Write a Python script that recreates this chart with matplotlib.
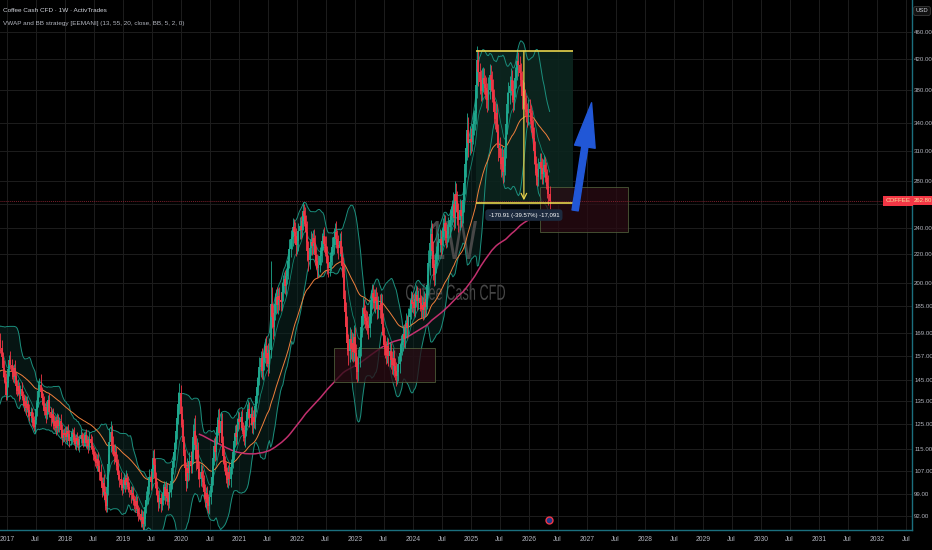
import numpy as np
import pandas as pd
import matplotlib
matplotlib.use("Agg")
import matplotlib.pyplot as plt
import matplotlib.dates as mdates
import matplotlib.transforms as mtransforms
from matplotlib.patches import Rectangle, PathPatch
from matplotlib.textpath import TextPath
from matplotlib.font_manager import FontProperties
from matplotlib.ticker import NullLocator

plt.rcParams['font.family'] = ['Liberation Sans', 'DejaVu Sans']

# =====================================================
# Weekly closes (Coffee Cash CFD, 1W)
# =====================================================

closes_2016 = [142.5, 140.2, 144.8, 146.1,
               141.3, 138.9, 145.6, 148.2, 151.0,
               149.8, 152.3, 154.6, 150.7,
               155.2, 158.9, 162.4, 165.8, 170.1,
               172.5, 165.4, 161.2, 156.3,
               150.8, 146.3, 143.9, 137.6]

closes_2017 = [143.2, 150.1, 154.7, 152.3, 148.9,
               146.2, 150.5, 146.8, 142.1,
               139.5, 141.8, 138.2, 140.6,
               137.4, 136.5, 132.8, 134.9,
               131.7, 133.6, 131.2, 128.4, 130.3,
               127.5, 125.3, 123.9, 126.8,
               131.6, 134.2, 139.7, 142.5, 138.9,
               136.2, 133.8, 130.5, 132.4,
               128.7, 131.9, 135.4, 130.2,
               127.6, 129.3, 125.8, 124.2, 126.5,
               123.4, 126.9, 124.1, 126.2,
               122.8, 119.6, 121.3, 120.4]

closes_2018 = [121.5, 119.8, 122.3, 120.9, 118.4,
               119.7, 121.6, 120.8, 118.5,
               117.2, 119.3, 118.1, 116.8,
               118.9, 120.4, 119.1, 117.6, 118.8,
               120.5, 117.3, 118.6, 116.4,
               119.2, 117.5, 115.1, 113.8,
               112.6, 111.2, 109.8, 111.5, 108.9,
               106.7, 103.4, 101.2, 102.8,
               99.8, 97.1, 95.3, 101.6,
               109.4, 117.8, 121.7, 116.2, 114.5,
               112.3, 113.8, 110.4, 108.9,
               105.6, 104.1, 102.3, 101.2, 102.5]

closes_2019 = [103.8, 102.1, 104.7, 103.2,
               101.5, 100.3, 98.7, 99.6,
               97.4, 96.8, 95.2, 96.9,
               94.3, 93.1, 92.7, 90.9, 91.8,
               89.6, 91.2, 94.8, 97.3,
               98.6, 101.4, 104.9, 103.2,
               107.6, 111.8, 109.3, 104.5, 101.2,
               98.7, 96.4, 97.8, 95.9,
               97.2, 99.5, 101.3, 98.6, 100.9,
               97.8, 96.5, 99.7, 103.4,
               108.2, 110.6, 113.9, 117.5,
               122.3, 127.8, 133.5, 138.6, 129.1]

closes_2020 = [124.6, 117.8, 112.3, 107.9,
               103.5, 108.2, 106.4, 110.7,
               109.3, 113.8, 119.7, 122.4, 116.5,
               111.2, 114.9, 107.6, 104.3,
               106.8, 104.5, 103.1, 99.8,
               97.6, 99.4, 96.3, 95.2, 98.1,
               101.7, 104.9, 111.6, 116.3,
               113.8, 119.6, 123.7, 126.8, 121.4,
               126.3, 117.5, 112.4, 109.8,
               108.1, 105.6, 103.9, 106.7,
               104.2, 108.5, 110.3, 113.8, 118.2,
               121.5, 119.7, 124.6, 127.3]

closes_2021 = [125.8, 127.9, 123.4, 121.7,
               119.3, 122.8, 126.4, 130.1,
               131.6, 127.5, 129.3, 124.6, 127.9,
               126.1, 132.7, 137.2, 141.5,
               145.8, 151.3, 155.6, 149.2, 153.7,
               158.4, 162.3, 155.9, 158.1,
               152.6, 159.8, 186.5, 178.3,
               172.4, 180.9, 186.2, 190.5, 185.7,
               191.3, 188.6, 187.4, 193.8,
               199.6, 202.5, 197.8, 204.3,
               208.6, 214.9, 223.7, 231.2, 232.8,
               240.5, 236.8, 233.9, 226.4]

closes_2022 = [229.5, 237.8, 241.6, 238.2, 245.3,
               253.4, 249.8, 243.1, 236.7,
               221.9, 215.6, 224.8, 228.9,
               226.3, 231.7, 228.2, 219.5,
               214.8, 209.7, 212.3, 218.6, 221.9,
               229.4, 233.8, 227.5, 226.1,
               219.7, 213.4, 209.8, 214.6,
               218.3, 224.9, 226.4, 232.7, 236.9,
               231.5, 226.8, 224.3, 229.6,
               219.8, 211.2, 205.7, 189.6, 181.4,
               172.8, 163.5, 159.2, 165.9,
               160.3, 163.7, 158.9, 166.8]

closes_2023 = [158.4, 151.2, 148.6, 155.9, 161.3,
               172.5, 178.9, 184.2, 180.3,
               177.6, 176.4, 173.8, 171.9,
               180.5, 188.7, 193.4, 190.1,
               186.9, 190.6, 188.3, 183.4, 185.7,
               182.9, 187.1, 174.6, 168.2,
               162.8, 160.4, 157.5, 161.9, 156.6,
               159.3, 154.7, 152.4, 155.8,
               151.7, 149.2, 146.8, 148.9,
               152.6, 158.4, 162.7, 164.3, 168.5,
               166.1, 171.8, 174.9, 172.3,
               178.6, 183.2, 188.7, 186.4]

closes_2024 = [187.4, 183.9, 189.6, 192.3, 188.5,
               190.4, 186.7, 183.2, 185.9,
               182.6, 187.9, 184.5, 189.3,
               198.7, 213.6, 228.4, 234.9, 222.1,
               209.8, 205.3, 212.7, 218.4,
               222.6, 227.9, 231.4, 226.8,
               232.5, 238.9, 243.6, 237.2, 231.8,
               235.4, 240.7, 246.3, 249.8,
               253.6, 259.4, 248.1, 268.5, 262.3,
               252.7, 246.2, 254.8, 249.6,
               252.3, 262.9, 278.4, 296.7,
               312.5, 331.8, 318.6, 322.9, 319.4]

closes_2025 = [326.4, 338.7, 342.1, 351.6,
               386.2, 418.5, 402.3, 389.7,
               378.4, 391.6, 395.2, 387.3, 381.6,
               372.9, 366.4, 378.8, 398.5,
               391.7, 379.3, 368.5, 352.8,
               344.6, 351.2, 329.7, 313.4, 302.8,
               296.5, 303.7, 289.2, 294.6,
               312.8, 338.4, 361.7, 375.2,
               384.6, 392.3, 378.5, 366.9, 381.2,
               394.7, 405.8, 418.2, 412.6,
               401.3, 392.7, 372.4, 378.1,
               369.5, 361.2, 352.8, 348.4, 356.3]

closes_2026 = [351.2, 342.8, 334.6, 323.9,
               309.7, 296.4, 288.1, 284.5,
               291.8, 298.6, 293.2, 286.7, 292.4,
               295.8, 289.3, 283.6, 276.2,
               268.9, 262.8]

# upper / lower wick length of each weekly candle, % of the body end
wick_up_2016 = [2.1, 1.6, 2.8, 1.2, 1.9, 2.4, 1.5, 3.1, 1.7, 2.6,
                1.1, 2.2, 3.3, 1.7, 2.3, 1.4, 3.0, 2.5, 3.4, 1.8,
                2.3, 2.7, 1.5, 2.5, 1.9, 2.9]
wick_dn_2016 = [1.8, 2.6, 1.3, 2.2, 2.8, 1.6, 2.4, 1.9, 2.6, 1.1,
                2.8, 1.8, 2.1, 3.0, 1.5, 2.4, 1.9, 3.2, 2.2, 3.4,
                1.6, 2.5, 3.1, 1.9, 2.3, 1.7]

wick_up_2017 = [2.9, 2.2, 1.7, 3.2, 1.9, 2.3, 1.4, 2.7, 1.3, 1.8,
                2.4, 1.5, 1.3, 2.2, 1.7, 1.2, 2.1, 1.6, 2.6, 1.3,
                1.8, 1.5, 1.1, 2.0, 2.6, 1.6, 2.8, 1.9, 3.3, 2.3,
                3.8, 2.0, 1.7, 2.5, 1.4, 2.1, 2.8, 1.6, 2.4, 1.8,
                1.4, 2.0, 2.5, 1.7, 1.4, 2.2, 1.8, 1.6, 2.4, 2.0,
                1.5, 1.8]
wick_dn_2017 = [1.5, 1.3, 2.4, 1.4, 2.5, 1.7, 1.9, 1.2, 2.7, 1.7,
                1.3, 2.3, 1.8, 1.5, 2.4, 1.7, 1.3, 2.1, 1.2, 2.3,
                1.6, 2.0, 2.6, 1.4, 1.2, 2.1, 1.5, 2.4, 1.4, 1.9,
                1.3, 2.3, 1.8, 1.4, 2.1, 2.6, 1.3, 1.9, 1.7, 2.7,
                1.7, 2.2, 1.4, 2.0, 2.4, 1.5, 2.0, 1.7, 2.2, 2.5,
                1.6, 1.9]

wick_up_2018 = [1.9, 2.4, 1.5, 2.2, 1.3, 2.0, 1.6, 1.2, 2.5, 1.7,
                1.4, 2.1, 1.8, 1.5, 2.3, 1.2, 1.9, 2.6, 1.4, 2.0,
                1.7, 1.3, 2.2, 1.6, 2.4, 1.5, 1.9, 1.4, 2.3, 1.6,
                2.1, 1.8, 2.7, 1.5, 2.2, 3.1, 1.9, 2.5, 4.2, 3.6,
                4.8, 3.9, 2.6, 3.3, 2.1, 2.8, 1.9, 2.4, 2.2, 1.7,
                2.5, 1.8, 2.3]
wick_dn_2018 = [1.4, 1.8, 2.2, 1.3, 2.0, 1.5, 1.9, 2.3, 1.2, 1.8,
                2.1, 1.4, 1.7, 2.4, 1.3, 1.9, 1.6, 1.2, 2.2, 1.5,
                2.0, 2.3, 1.4, 1.9, 1.6, 2.5, 1.7, 2.2, 1.5, 2.4,
                1.8, 2.6, 1.6, 2.9, 2.3, 1.8, 3.2, 2.1, 1.9, 2.8,
                2.2, 3.4, 2.7, 1.9, 2.5, 1.8, 2.6, 2.2, 1.7, 2.4,
                1.9, 2.3, 1.6]

wick_up_2019 = [2.3, 1.8, 2.6, 1.5, 2.1, 1.7, 1.4, 2.2, 1.8, 1.3,
                1.9, 2.4, 1.6, 1.4, 2.0, 1.7, 2.3, 2.1, 3.2, 2.6,
                2.9, 3.4, 2.4, 2.8, 2.1, 3.6, 2.5, 3.1, 2.2, 1.9,
                2.4, 1.7, 2.6, 1.8, 2.3, 2.9, 2.1, 1.6, 2.5, 1.9,
                2.2, 2.8, 3.1, 2.4, 2.9, 3.3, 2.6, 3.5, 2.9, 4.1,
                3.4, 2.7]
wick_dn_2019 = [1.7, 2.2, 1.4, 2.3, 1.6, 2.1, 2.4, 1.5, 2.0, 2.6,
                1.8, 1.5, 2.2, 2.5, 1.6, 2.3, 1.9, 2.7, 1.8, 2.2,
                1.9, 1.6, 2.6, 2.1, 2.8, 1.9, 2.4, 2.0, 3.1, 2.5,
                2.2, 2.8, 1.9, 2.6, 2.1, 1.8, 2.4, 2.9, 1.7, 2.3,
                2.6, 1.9, 1.7, 2.5, 2.0, 1.8, 2.4, 2.1, 2.6, 2.2,
                3.1, 4.2]

wick_up_2020 = [2.8, 2.2, 1.9, 2.5, 2.3, 3.1, 2.4, 2.8, 3.2, 3.9,
                4.6, 4.1, 5.2, 3.4, 3.8, 2.6, 2.9, 2.4, 2.2, 2.7,
                2.3, 2.8, 2.1, 2.5, 2.9, 2.4, 3.1, 3.6, 3.3, 2.8,
                3.5, 2.9, 3.4, 3.8, 4.1, 3.2, 2.6, 2.3, 2.8, 2.4,
                2.1, 2.7, 2.3, 2.9, 2.5, 2.2, 2.8, 2.4, 2.6, 2.9,
                2.3, 2.7]
wick_dn_2020 = [3.2, 3.6, 2.8, 2.4, 3.1, 2.2, 2.7, 2.3, 2.9, 2.6,
                3.4, 3.8, 4.4, 3.6, 2.9, 3.3, 2.7, 2.4, 2.8, 2.5,
                2.2, 2.6, 2.9, 2.4, 2.1, 2.7, 2.3, 2.0, 2.5, 2.2,
                2.8, 2.4, 2.1, 2.6, 3.1, 2.5, 3.3, 2.7, 2.4, 2.2,
                2.6, 2.3, 2.8, 2.1, 2.5, 2.2, 1.9, 2.4, 2.1, 2.6,
                2.3, 2.0]

wick_up_2021 = [2.4, 2.1, 2.8, 2.2, 2.6, 1.9, 2.3, 2.7, 3.1, 2.4,
                2.2, 2.8, 2.5, 2.9, 2.3, 2.6, 3.2, 2.8, 3.4, 2.5,
                3.6, 2.9, 3.1, 2.6, 3.3, 2.8, 3.5, 4.2, 15.3, 5.6,
                4.1, 3.4, 3.8, 2.9, 3.5, 2.7, 3.2, 2.8, 3.6, 2.9,
                2.5, 3.1, 2.7, 3.3, 2.6, 3.4, 2.9, 2.5, 3.1, 2.8,
                3.4, 2.6]
wick_dn_2021 = [2.1, 2.5, 1.9, 2.7, 2.3, 2.9, 2.0, 1.8, 2.4, 2.8,
                2.2, 2.6, 2.9, 2.1, 2.4, 1.9, 2.3, 2.7, 2.2, 3.4,
                2.6, 3.1, 2.5, 3.3, 2.8, 3.0, 3.7, 2.9, 2.4, 3.6,
                3.9, 2.8, 2.4, 3.1, 2.6, 2.9, 3.3, 2.7, 2.4, 2.8,
                3.1, 2.5, 3.3, 2.6, 2.9, 2.2, 2.7, 3.2, 2.8, 3.5,
                2.9, 3.4]

wick_up_2022 = [3.1, 2.6, 2.9, 3.4, 2.7, 3.3, 2.5, 2.8, 3.2, 3.8,
                3.4, 2.9, 3.6, 3.1, 2.7, 3.3, 2.8, 3.1, 2.6, 3.4,
                2.9, 3.2, 2.7, 2.4, 3.1, 2.8, 3.3, 2.9, 2.6, 3.2,
                2.8, 3.4, 2.7, 3.1, 2.9, 3.6, 2.8, 3.2, 2.6, 3.4,
                2.9, 3.1, 3.5, 2.8, 3.3, 3.7, 3.2, 4.1, 3.5, 3.9,
                3.3, 4.2]
wick_dn_2022 = [2.7, 3.2, 2.6, 2.9, 2.4, 2.8, 3.3, 2.7, 3.4, 3.1,
                3.6, 2.8, 2.5, 3.2, 2.7, 2.9, 3.4, 2.6, 3.1, 2.8,
                2.5, 2.9, 3.3, 2.7, 2.6, 3.2, 2.8, 3.5, 2.9, 2.6,
                3.1, 2.7, 2.4, 2.9, 2.6, 3.2, 2.8, 3.4, 2.7, 3.3,
                3.6, 3.2, 3.8, 4.1, 3.5, 3.9, 4.4, 3.6, 3.2, 3.8,
                3.4, 3.1]

wick_up_2023 = [3.4, 3.1, 3.7, 2.9, 3.3, 3.8, 3.2, 3.5, 2.8, 3.1,
                2.7, 3.3, 2.9, 3.4, 3.6, 3.1, 2.8, 3.2, 2.7, 3.4,
                2.9, 3.1, 3.8, 3.3, 2.9, 3.5, 2.8, 3.1, 2.6, 3.3,
                2.8, 3.0, 2.7, 2.9, 3.2, 2.6, 2.8, 3.1, 2.5, 2.9,
                3.2, 3.4, 2.8, 3.1, 3.6, 2.9, 3.3, 2.7, 3.1, 3.5,
                3.2, 2.9]
wick_dn_2023 = [3.6, 3.9, 3.2, 2.8, 3.1, 2.7, 3.3, 2.9, 3.4, 3.0,
                3.2, 2.8, 3.5, 2.7, 3.1, 2.9, 3.3, 2.6, 3.1, 2.8,
                3.2, 2.9, 2.7, 3.4, 3.7, 3.1, 3.3, 2.8, 3.2, 2.9,
                3.1, 3.4, 2.8, 3.0, 3.3, 3.6, 2.9, 3.2, 2.7, 3.1,
                2.8, 2.6, 3.2, 2.9, 2.7, 3.1, 2.8, 3.3, 2.9, 2.6,
                3.1, 2.8]

wick_up_2024 = [2.8, 3.2, 2.6, 3.1, 2.9, 2.5, 3.3, 2.8, 3.1, 2.7,
                3.4, 2.9, 3.2, 3.6, 4.4, 5.1, 4.7, 3.9, 3.5, 3.2,
                3.8, 3.3, 3.1, 3.6, 3.3, 2.9, 3.4, 3.8, 3.2, 2.9,
                3.3, 3.1, 3.5, 3.7, 3.2, 3.9, 4.3, 3.5, 4.6, 3.8,
                3.4, 3.1, 3.7, 3.3, 3.6, 4.2, 4.8, 5.3, 5.1, 5.8,
                4.6, 4.1, 3.7]
wick_dn_2024 = [2.9, 2.6, 3.1, 2.7, 3.2, 2.8, 2.6, 3.0, 2.7, 3.1,
                2.8, 3.3, 2.9, 3.1, 3.4, 3.8, 4.1, 4.6, 3.9, 3.6,
                3.2, 2.9, 3.3, 3.0, 2.8, 3.4, 3.1, 2.9, 3.5, 3.7,
                3.3, 3.0, 2.8, 3.2, 3.6, 3.1, 3.4, 3.9, 3.3, 3.6,
                4.0, 3.8, 3.2, 3.6, 3.4, 3.2, 3.7, 3.5, 4.2, 3.9,
                4.6, 4.1, 3.8]

wick_up_2025 = [3.6, 4.1, 3.8, 4.4, 5.2, 4.9, 3.7, 3.3, 3.9, 4.2,
                3.6, 3.4, 3.1, 3.8, 4.3, 4.7, 3.9, 3.5, 3.2, 3.6,
                3.3, 3.8, 3.4, 3.1, 2.9, 3.5, 3.2, 3.6, 2.8, 3.3,
                4.1, 4.6, 4.2, 3.8, 3.5, 3.9, 3.4, 3.7, 3.2, 3.6,
                3.3, 3.8, 2.9, 3.1, 3.4, 3.0, 3.6, 3.2, 2.9, 3.4,
                3.1, 3.3]
wick_dn_2025 = [3.1, 2.8, 3.4, 3.0, 3.6, 4.2, 4.5, 3.8, 3.4, 3.1,
                3.7, 3.3, 3.6, 4.1, 3.8, 3.2, 2.9, 3.5, 3.8, 4.1,
                3.6, 3.3, 4.2, 3.9, 4.4, 3.7, 4.1, 3.5, 3.8, 3.2,
                2.9, 3.3, 3.1, 2.8, 3.4, 3.1, 3.7, 3.9, 3.3, 2.9,
                3.2, 3.5, 3.8, 4.1, 3.6, 4.3, 3.9, 3.5, 3.8, 3.3,
                3.6, 3.2]

wick_up_2026 = [3.2, 2.9, 3.4, 3.1, 3.6, 3.3, 2.9, 3.5, 3.8, 3.2,
                2.9, 3.4, 3.1, 3.3, 2.8, 3.2, 2.9, 3.4, 2.6]
wick_dn_2026 = [3.5, 3.8, 3.3, 3.9, 4.1, 3.6, 3.8, 3.2, 3.0, 3.4,
                3.6, 3.1, 3.3, 2.9, 3.4, 3.6, 3.9, 3.7, 2.8]

first_week = "2016-07-04"
last_price = 262.8

# axis ticks
price_ticks = [92, 99, 107, 115, 125, 135, 145, 157, 169, 185, 200,
               220, 240, 280, 310, 340, 380, 420, 460]
years = list(range(2017, 2033))

# drawings on the chart
range_dates = ["2025-02-01", "2026-10-05"]
range_prices = [431.9, 261.0]
range_mid = "2025-11-30"
range_label = "-170.91 (-39.57%) -17,091"
box_a_dates = ["2026-03-10", "2027-09-16"]
box_a_prices = [236.7, 274.9]
box_b_dates = ["2022-08-22", "2024-05-18"]
box_b_prices = [143.8, 161.0]
arrow_dates = ["2026-10-16", "2027-02-02"]
arrow_prices = [252.0, 367.0]

# =====================================================
# Build series + indicators
# =====================================================

closes = np.array(closes_2016 + closes_2017 + closes_2018 + closes_2019 +
                  closes_2020 + closes_2021 + closes_2022 + closes_2023 +
                  closes_2024 + closes_2025 + closes_2026)
wick_up = np.array(wick_up_2016 + wick_up_2017 + wick_up_2018 + wick_up_2019 +
                   wick_up_2020 + wick_up_2021 + wick_up_2022 + wick_up_2023 +
                   wick_up_2024 + wick_up_2025 + wick_up_2026)
wick_dn = np.array(wick_dn_2016 + wick_dn_2017 + wick_dn_2018 + wick_dn_2019 +
                   wick_dn_2020 + wick_dn_2021 + wick_dn_2022 + wick_dn_2023 +
                   wick_dn_2024 + wick_dn_2025 + wick_dn_2026)

dates = pd.date_range(first_week, periods=len(closes), freq="W-MON")
opens = np.r_[closes[0], closes[:-1]]
highs = np.maximum(opens, closes) * (1 + wick_up / 100)
lows = np.minimum(opens, closes) * (1 - wick_dn / 100)

s = pd.Series(closes)
ema13 = s.ewm(span=13, adjust=False).mean()
ema55 = s.ewm(span=55, adjust=False).mean()
sma200 = s.rolling(200).mean()
basis = s.rolling(20).mean()
dev = s.rolling(20).std(ddof=0)
upper = basis + 2 * dev
lower = basis - 2 * dev

# =====================================================
# Figure
# =====================================================

BG = "#000000"
GRID = "#1d1d1d"
AXIS = "#1b6f7e"
TXT = "#b2b5be"
UP = "#1fa98f"
DOWN = "#f23645"
TEAL = "#1b8f7d"
WM = "#474747"

fig = plt.figure(figsize=(9.32, 5.5), dpi=100)
fig.patch.set_facecolor(BG)
ax = fig.add_axes([0, 20 / 550, 912 / 932, 530 / 550])
ax.set_facecolor(BG)

ax.set_yscale("log")
d2017 = mdates.date2num(pd.Timestamp("2017-01-01"))
ax.set_xlim(d2017 - 7 / 58 * 365.25, d2017 + 905 / 58 * 365.25)
ax.set_ylim(87.96, 511.6)

# grid
jan = [pd.Timestamp(f"{y}-01-01") for y in years]
jul = [pd.Timestamp(f"{y}-07-01") for y in years]
xt = sorted(jan + jul)
xl = [str(t.year) if t.month == 1 else "Jul" for t in xt]
for t in xt:
    ax.axvline(t, color=GRID, lw=0.7, zorder=0)
for p in price_ticks + [260]:
    ax.axhline(p, color=GRID, lw=0.7, zorder=0)

# watermark (squeezed like the narrow chart font)
fp = FontProperties(family="Liberation Sans")


def watermark(text, x0, y_top, w, h):
    tp = TextPath((0, 0), text, size=50, prop=fp)
    ext = tp.get_extents()
    tr = (mtransforms.Affine2D().translate(-ext.x0, -ext.y0)
          .scale(w / ext.width, h / ext.height)
          .translate(x0, 550 - y_top - h))
    ax.add_patch(PathPatch(tp, transform=tr, fc=WM, ec="none", zorder=1.5))


watermark("1W", 430, 221, 47, 38)
watermark("Coffee Cash CFD", 406, 284, 99, 16)

# Bollinger band fill + lines
ax.fill_between(dates, lower, upper, color="#0b2724", alpha=0.55, lw=0, zorder=1)
ax.plot(dates, upper, color=TEAL, lw=0.7, zorder=2)
ax.plot(dates, lower, color=TEAL, lw=0.7, zorder=2)
ax.plot(dates, ema13, color="#16a085", lw=0.6, alpha=0.8, zorder=2)
ax.plot(dates, ema55, color="#f0803c", lw=0.7, zorder=2)
ax.plot(dates, sma200, color="#c2306e", lw=1.1, zorder=2)

# range tool (behind the candles)
r0, r1 = pd.Timestamp(range_dates[0]), pd.Timestamp(range_dates[1])
ax.fill_between([r0, r1], range_prices[1], range_prices[0],
                color="#0c251f", alpha=0.9, lw=0, zorder=1)

# candles
up = closes >= opens
for m, c in [(up, UP), (~up, DOWN)]:
    ax.vlines(dates[m], lows[m], highs[m], color=c, lw=0.6, zorder=3)
    ax.vlines(dates[m], opens[m], closes[m], color=c, lw=1.3, zorder=3)

# range tool lines + label
ax.hlines(range_prices, r0, r1, color="#e8d44d", lw=1.2, zorder=4)
mid = pd.Timestamp(range_mid)
ax.annotate("", xy=(mid, range_prices[1] + 2), xytext=(mid, range_prices[0]),
            arrowprops=dict(arrowstyle="->", color="#e8d44d", lw=0.9,
                            shrinkA=0, shrinkB=0), zorder=4)
ax.text(mid, 250.4, range_label, color="white", fontsize=4.3,
        ha="center", va="center", zorder=5,
        bbox=dict(boxstyle="round,pad=0.55", fc="#1c2a3e", ec="none"))

# boxes
for bd, bp in [(box_a_dates, box_a_prices), (box_b_dates, box_b_prices)]:
    x0 = mdates.date2num(pd.Timestamp(bd[0]))
    x1 = mdates.date2num(pd.Timestamp(bd[1]))
    ax.add_patch(Rectangle((x0, bp[0]), x1 - x0, bp[1] - bp[0],
                           fc="#2a0c14", ec="#55663f", lw=0.7,
                           alpha=0.75, zorder=2))

# blue arrow
ax.annotate("", xy=(pd.Timestamp(arrow_dates[1]), arrow_prices[1]),
            xytext=(pd.Timestamp(arrow_dates[0]), arrow_prices[0]),
            arrowprops=dict(arrowstyle="simple,head_length=3.2,head_width=1.5,tail_width=0.45",
                            mutation_scale=10, fc="#2157d6", ec="#2157d6"),
            zorder=5)

# last price line + label
ax.axhline(last_price, color="#7a1f2b", lw=0.7, ls=(0, (1, 1)), zorder=2)
bt = mtransforms.blended_transform_factory(ax.transAxes, ax.transData)
ax.text(1 - 1.5 / 912, last_price, "COFFEE", transform=bt, ha="right",
        va="center", fontsize=4.5, color="#f3e2a0", clip_on=False, zorder=6,
        bbox=dict(boxstyle="square,pad=0.4", fc=DOWN, ec="none"))
ax.text(1 + 1.5 / 912, last_price, f"{last_price:.2f}", transform=bt, ha="left",
        va="center", fontsize=4.3, color="#f3e2a0", clip_on=False, zorder=6,
        bbox=dict(boxstyle="square,pad=0.4", fc=DOWN, ec="none"))

# event icon near the bottom
bx = mtransforms.blended_transform_factory(ax.transData, ax.transAxes)
ax.plot([pd.Timestamp("2026-05-05")], [0.019], transform=bx,
        marker="o", ms=5, mfc="#1e3a8a", mec=DOWN, mew=1.0, clip_on=False, zorder=6)

# axes styling
ax.set_xticks(xt)
ax.set_xticklabels(xl)
ax.yaxis.tick_right()
ax.set_yticks(price_ticks)
ax.set_yticklabels([f"{p:.2f}" for p in price_ticks])
ax.yaxis.set_minor_locator(NullLocator())
ax.tick_params(axis="both", colors=TXT, length=0)
ax.tick_params(axis="x", pad=4, labelsize=4.9)
ax.tick_params(axis="y", pad=1.5, labelsize=4.4)
for side in ["top", "left"]:
    ax.spines[side].set_visible(False)
for side in ["right", "bottom"]:
    ax.spines[side].set_color(AXIS)
    ax.spines[side].set_linewidth(1.0)

# header
fig.text(3 / 932, 1 - 11 / 550, "Coffee Cash CFD · 1W · ActivTrades",
         color="#d1d4dc", fontsize=4.6, va="center")
fig.text(3 / 932, 1 - 23 / 550, "VWAP and BB strategy [EEMANI] (13, 55, 20, close, BB, 5, 2, 0)",
         color=TXT, fontsize=4.6, va="center")
fig.text(922 / 932, 1 - 11 / 550, "USD", color="#d1d4dc", fontsize=4.2,
         ha="center", va="center",
         bbox=dict(boxstyle="round,pad=0.35", fc="#111111", ec="#3a3a3a", lw=0.6))

fig.savefig("out.png", dpi=100, facecolor=BG)
